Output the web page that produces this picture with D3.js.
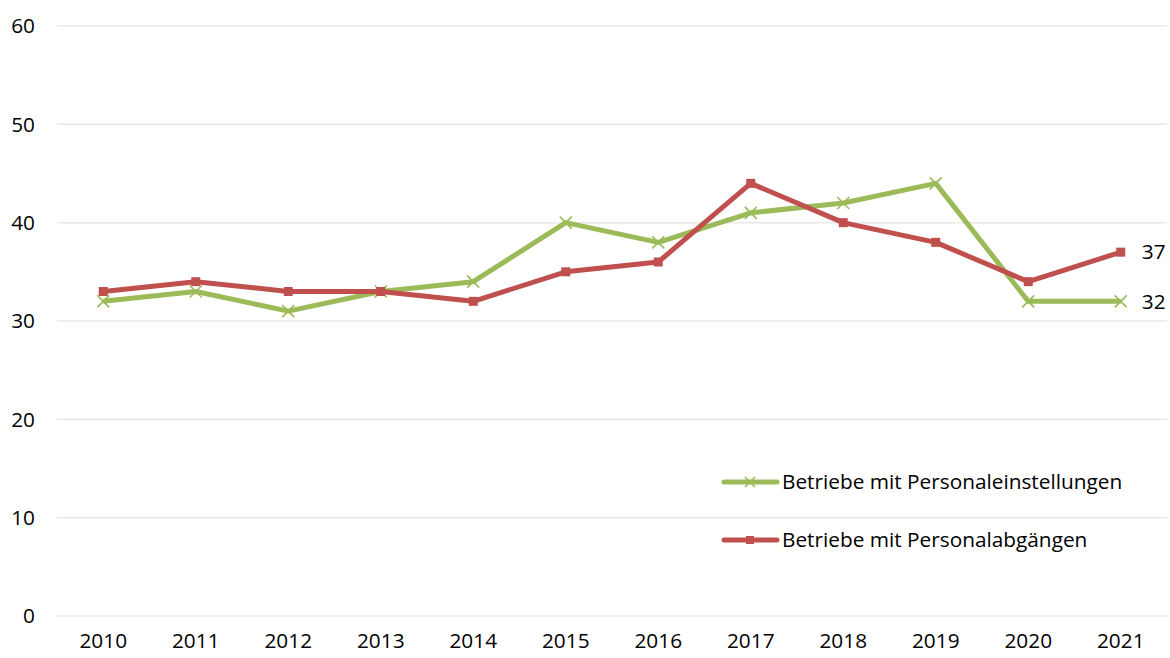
<!DOCTYPE html>
<html>
<head>
<meta charset="utf-8">
<script src="https://cdn.jsdelivr.net/npm/d3@7"></script>
<style>
  body { margin: 0; background: #fff; }
  text { font-family: "Open Sans", "Liberation Sans", sans-serif; fill: #000; }
</style>
</head>
<body>
<svg id="chart" width="1170" height="658"></svg>
<script>
var years = ["2010","2011","2012","2013","2014","2015","2016","2017","2018","2019","2020","2021"];
var einstellungen = [32, 33, 31, 33, 34, 40, 38, 41, 42, 44, 32, 32];
var abgaenge = [33, 34, 33, 33, 32, 35, 36, 44, 40, 38, 34, 37];
var yTicks = [0, 10, 20, 30, 40, 50, 60];
var seriesNames = ["Betriebe mit Personaleinstellungen", "Betriebe mit Personalabgängen"];

var svg = d3.select("#chart"),
    plotLeft = 57, plotRight = 1167, plotTop = 26, plotBottom = 616,
    fontSize = "20.8px";

var x = d3.scaleBand().domain(years).range([plotLeft, plotRight]);
var y = d3.scaleLinear().domain([0, 60]).range([plotBottom, plotTop]);

// gridlines
svg.append("g").selectAll("line")
    .data(yTicks)
    .enter().append("line")
    .attr("x1", plotLeft).attr("x2", plotRight)
    .attr("y1", function(d) { return y(d); })
    .attr("y2", function(d) { return y(d); })
    .style("stroke", "#e8e8e8")
    .style("stroke-width", 1.5);

// y labels
svg.append("g").selectAll("text")
    .data(yTicks)
    .enter().append("text")
    .attr("x", 35)
    .attr("y", function(d) { return y(d); })
    .attr("dy", "0.35em")
    .attr("text-anchor", "end")
    .style("font-size", fontSize)
    .text(function(d) { return d; });

// x labels
svg.append("g").selectAll("text")
    .data(years)
    .enter().append("text")
    .attr("x", function(d) { return x(d) + x.bandwidth() / 2; })
    .attr("y", 648)
    .attr("text-anchor", "middle")
    .style("font-size", fontSize)
    .text(function(d) { return d; });

var cx = function(d, i) { return x(years[i]) + x.bandwidth() / 2; };
var line = d3.line().x(cx).y(function(d) { return y(d); });

var green = "#9bbb59", red = "#c0504d";

svg.append("path").datum(einstellungen)
    .attr("d", line)
    .style("fill", "none").style("stroke", green)
    .style("stroke-width", 5).style("stroke-linejoin", "round");

svg.append("g").selectAll("path")
    .data(einstellungen)
    .enter().append("path")
    .attr("transform", function(d, i) { return "translate(" + cx(d, i) + "," + y(d) + ")"; })
    .attr("d", "M-6,-6L6,6M-6,6L6,-6")
    .style("stroke", green).style("stroke-width", 1.6);

svg.append("path").datum(abgaenge)
    .attr("d", line)
    .style("fill", "none").style("stroke", red)
    .style("stroke-width", 5).style("stroke-linejoin", "round");

svg.append("g").selectAll("rect")
    .data(abgaenge)
    .enter().append("rect")
    .attr("x", function(d, i) { return cx(d, i) - 4.5; })
    .attr("y", function(d) { return y(d) - 4.5; })
    .attr("width", 9).attr("height", 9)
    .style("fill", red);

// end labels
svg.append("text")
    .attr("x", cx(null, 11) + 21).attr("y", y(abgaenge[11]))
    .attr("dy", "0.35em").style("font-size", fontSize)
    .text(abgaenge[11]);
svg.append("text")
    .attr("x", cx(null, 11) + 21).attr("y", y(einstellungen[11]))
    .attr("dy", "0.35em").style("font-size", fontSize)
    .text(einstellungen[11]);

// legend
var legend = svg.append("g");
[482, 540].forEach(function(ly, i) {
    legend.append("line")
        .attr("x1", 724).attr("x2", 777).attr("y1", ly).attr("y2", ly)
        .style("stroke", i === 0 ? green : red)
        .style("stroke-width", 5).style("stroke-linecap", "round");
    if (i === 0) {
        legend.append("path")
            .attr("transform", "translate(750," + ly + ")")
            .attr("d", "M-5,-5L5,5M-5,5L5,-5")
            .style("stroke", green).style("stroke-width", 1.6);
    } else {
        legend.append("rect")
            .attr("x", 746).attr("y", ly - 4).attr("width", 8).attr("height", 8)
            .style("fill", red);
    }
    legend.append("text")
        .attr("x", 782).attr("y", ly).attr("dy", "0.35em")
        .style("font-size", fontSize)
        .text(seriesNames[i]);
});
</script>
</body>
</html>
